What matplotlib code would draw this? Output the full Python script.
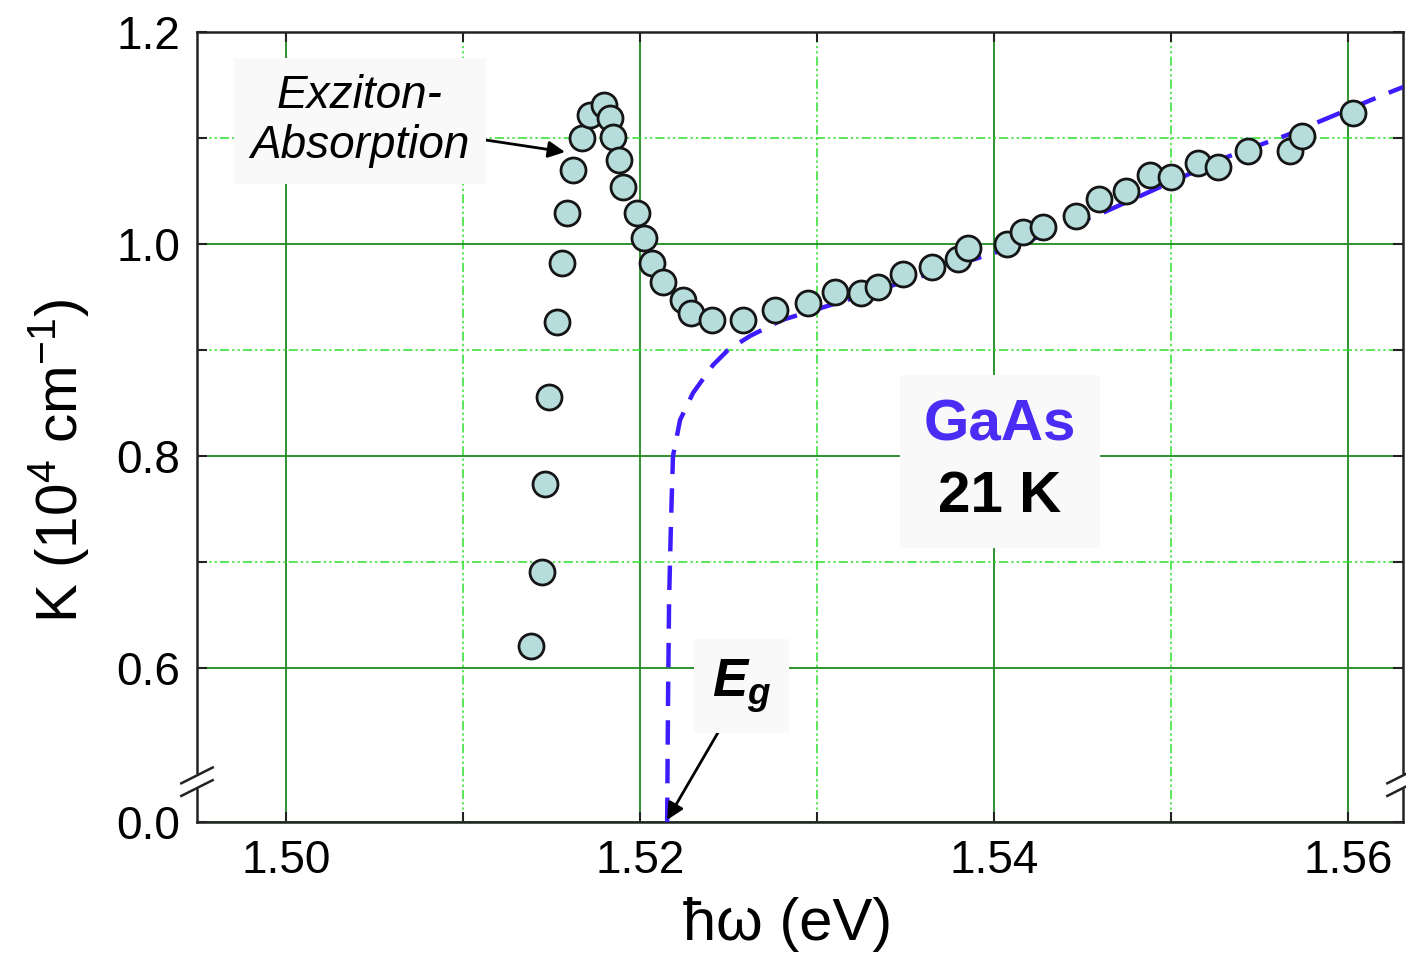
import numpy as np
import matplotlib
matplotlib.use("Agg")
from matplotlib import pyplot as plt
from matplotlib.offsetbox import TextArea, VPacker, AnnotationBbox

plt.rcParams['font.family'] = ['Liberation Sans', 'DejaVu Sans']
plt.rcParams['mathtext.fontset'] = 'custom'
plt.rcParams['mathtext.rm'] = 'Liberation Sans'
plt.rcParams['mathtext.it'] = 'Liberation Sans:italic:bold'
plt.rcParams['mathtext.default'] = 'regular'

# measured points (photon energy in eV, K in 1e4 cm^-1)
energy = [1.51384, 1.51446, 1.51463, 1.51486, 1.51531, 1.51559, 1.51588, 1.51621,
          1.51672, 1.51718, 1.51797, 1.51831, 1.51847, 1.51881, 1.51904, 1.51983,
          1.52023, 1.52068, 1.52130, 1.52243, 1.52288, 1.52407, 1.52582, 1.52763,
          1.52949, 1.53102, 1.53249, 1.53345, 1.53486, 1.53650, 1.53797, 1.53853,
          1.54073, 1.54164, 1.54277, 1.54463, 1.54593, 1.54746, 1.54881, 1.55000,
          1.55153, 1.55266, 1.55435, 1.55672, 1.55740, 1.56028]
absorp = [0.621, 0.691, 0.774, 0.856, 0.926, 0.982, 1.029, 1.070,
          1.100, 1.122, 1.131, 1.119, 1.101, 1.079, 1.054, 1.029,
          1.006, 0.982, 0.964, 0.947, 0.935, 0.928, 0.928, 0.938,
          0.944, 0.955, 0.954, 0.959, 0.972, 0.978, 0.986, 0.996,
          1.000, 1.011, 1.016, 1.026, 1.042, 1.050, 1.065, 1.063,
          1.076, 1.073, 1.088, 1.088, 1.102, 1.124]

# band-edge curve (bottom value sits on the broken axis, i.e. K = 0)
fit_e = [1.52153, 1.52158, 1.52164, 1.52175, 1.52186, 1.52226, 1.52299, 1.52412,
         1.52497, 1.52621, 1.52802, 1.53113, 1.53469, 1.54034, 1.54599, 1.55316,
         1.55655, 1.56198, 1.56311]
fit_k = [0.4547, 0.5698, 0.6642, 0.7396, 0.8000, 0.8340, 0.8594, 0.8858,
         0.9000, 0.9132, 0.9283, 0.9443, 0.9632, 0.9934, 1.0283, 1.0821,
         1.1028, 1.1406, 1.1481]

Y_BREAK = 0.4547
xticks = [1.50, 1.52, 1.54, 1.56]
xtick_labels = ['1.50', '1.52', '1.54', '1.56']
yticks = [Y_BREAK, 0.6, 0.8, 1.0, 1.2]
ytick_labels = ['0.0', '0.6', '0.8', '1.0', '1.2']
xminor = [1.51, 1.53, 1.55]
yminor = [0.7, 0.9, 1.1]

fig = plt.figure(figsize=(14.06, 9.61), dpi=100)
ax = fig.add_axes([197/1406, 1 - 822/961, 1206/1406, 790/961])

ax.plot(fit_e, fit_k, color='#3d1cff', lw=3.2, dashes=(5.5, 3.2), zorder=3)
ax.plot(energy, absorp, 'o', ms=18, mfc='#b6dcdc', mec='#151515', mew=2.0, zorder=4)

ax.set_xlim(1.49497, 1.5631)
ax.set_ylim(Y_BREAK, 1.2)
ax.set_xticks(xticks)
ax.set_xticklabels(xtick_labels)
ax.set_yticks(yticks)
ax.set_yticklabels(ytick_labels)
ax.set_xticks(xminor, minor=True)
ax.set_yticks(yminor, minor=True)

ax.grid(which='major', color='#1e8a1e', lw=1.3, ls='-', zorder=1)
ax.grid(which='minor', color='#2ee02e', lw=1.1, ls=(0, (6, 2, 1.5, 2, 1.5, 2)), zorder=1)
ax.set_axisbelow(True)

ax.tick_params(which='both', direction='in', top=True, right=True,
               length=7, width=1.5, color='#222222')
ax.tick_params(which='major', labelsize=33, pad=12)
for s in ax.spines.values():
    s.set_linewidth(1.8)
    s.set_color('#222222')

ax.set_xlabel('ħω (eV)', fontsize=43)
ax.xaxis.set_label_coords(0.49, -0.095)
ax.set_ylabel('K (10$^{4}$ cm$^{-1}$)', fontsize=42)
ax.yaxis.set_label_coords(-0.088, 0.458)

# axis break marks
for xs in (0.0, 1.0):
    ax.plot([xs, xs], [0.045, 0.057], color='white', lw=4, transform=ax.transAxes,
            clip_on=False, zorder=6)
    for yc in (0.043, 0.059):
        ax.plot([xs - 0.013, xs + 0.013], [yc - 0.010, yc + 0.010], color='#222222',
                lw=1.8, transform=ax.transAxes, clip_on=False, zorder=7)

bg = '#f9f9f9'
ax.annotate('Exziton-\nAbsorption', xy=(1.51576, 1.0868), xytext=(1.50418, 1.116),
            fontsize=33, style='italic', ha='center', va='center', linespacing=1.15,
            bbox=dict(facecolor=bg, edgecolor='none', pad=12), zorder=5,
            arrowprops=dict(arrowstyle='-|>', color='black', lw=2, mutation_scale=25,
                            shrinkA=0, shrinkB=0))

ax.annotate('', xy=(1.52153, Y_BREAK + 0.002), xytext=(1.52508, 0.5585),
            arrowprops=dict(arrowstyle='-|>', color='black', lw=2, mutation_scale=25,
                            shrinkA=0, shrinkB=0), zorder=5)
ax.text(1.52575, 0.583, r'$\mathit{E}_{\mathit{g}}$', fontsize=38,
        ha='center', va='center', zorder=5,
        bbox=dict(facecolor=bg, edgecolor='none', pad=13))

# sample label: two coloured lines on one shared panel
line1 = TextArea('GaAs', textprops=dict(fontsize=42, weight='bold', color='#4a2cf5'))
line2 = TextArea('21 K', textprops=dict(fontsize=42, weight='bold', color='black'))
pack = VPacker(children=[line1, line2], align='center', pad=0, sep=13)
ab = AnnotationBbox(pack, (1.54034, 0.795), xycoords='data', frameon=True,
                    box_alignment=(0.5, 0.5), pad=1.7,
                    bboxprops=dict(facecolor=bg, edgecolor='none'), zorder=5)
ax.add_artist(ab)

fig.savefig('out.png', dpi=100)
